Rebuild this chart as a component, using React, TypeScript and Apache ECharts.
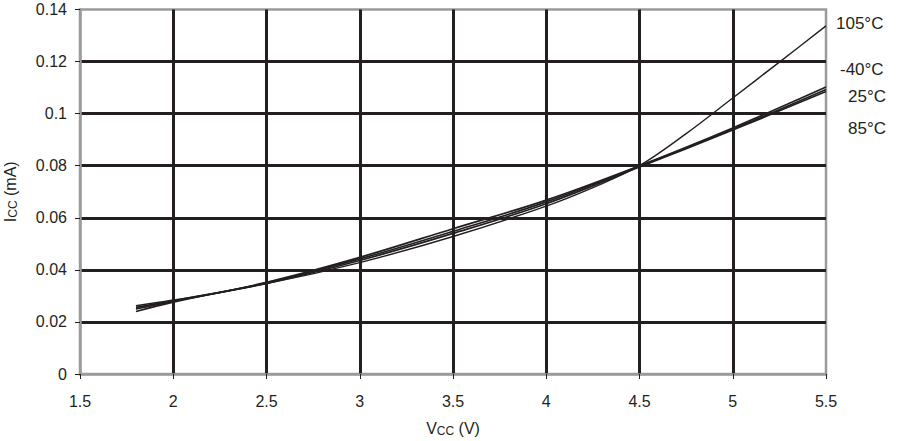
import React, { useEffect, useRef } from "react";
import * as echarts from "echarts";

const vcc = [1.8, 2, 2.5, 3, 3.5, 4, 4.5, 5, 5.5];
const iccM40 = [0.0240, 0.0276, 0.0352, 0.0448, 0.0558, 0.0668, 0.0800, 0.0945, 0.1102];
const icc25 = [0.0250, 0.0279, 0.0350, 0.0442, 0.0548, 0.0661, 0.0798, 0.0940, 0.1093];
const icc85 = [0.0256, 0.0281, 0.0348, 0.0436, 0.0540, 0.0654, 0.0795, 0.0937, 0.1085];
const vcc105 = [1.8, 2, 2.5, 3, 3.5, 4, 4.25, 4.5, 4.75, 5, 5.25, 5.5];
const icc105 = [0.0262, 0.0284, 0.0347, 0.0428, 0.0528, 0.0645, 0.0716, 0.0800, 0.0923, 0.1060, 0.1198, 0.1337];
const seriesNames = ["-40°C", "25°C", "85°C", "105°C"];
const xTicks = { min: 1.5, max: 5.5, interval: 0.5 };
const yTicks = { min: 0, max: 0.14, interval: 0.02 };

const INK = "#231f20";
const FRAME = "#9a9a9a";
const FONT = "Liberation Sans, Arial, sans-serif";

export default function App() {
  const ref = useRef<HTMLDivElement>(null);
  useEffect(() => {
    document.body.style.margin = "0";
    const chart = echarts.init(ref.current!, null, { renderer: "svg" });
    const all: [number[], number[]][] = [
      [vcc, iccM40],
      [vcc, icc25],
      [vcc, icc85],
      [vcc105, icc105],
    ];
    chart.setOption({
      animation: false,
      textStyle: { fontFamily: FONT, color: INK },
      grid: {
        left: 80,
        right: 72,
        top: 9.5,
        bottom: 67,
        outerBoundsMode: "none",
        containLabel: false,
        show: true,
        borderColor: FRAME,
        borderWidth: 2.5,
        backgroundColor: "transparent",
      },
      xAxis: {
        type: "value",
        min: xTicks.min,
        max: xTicks.max,
        interval: xTicks.interval,
        axisLine: { show: true, lineStyle: { color: FRAME, width: 2.5 } },
        axisTick: { show: true, length: 5, lineStyle: { color: INK, width: 1 } },
        axisLabel: { color: INK, fontSize: 16, margin: 19, fontFamily: FONT },
        splitLine: {
          show: true,
          showMinLine: false,
          showMaxLine: false,
          lineStyle: { color: INK, width: 3 },
        },
        name: "{a|V}{s|CC}{a| (V)}",
        nameLocation: "middle",
        nameGap: 46,
        nameTextStyle: {
          rich: {
            a: { fontSize: 16, color: INK, fontFamily: FONT },
            s: { fontSize: 12, color: INK, fontFamily: FONT, padding: [5, 0, 0, 0] },
          },
        },
      },
      yAxis: {
        type: "value",
        min: yTicks.min,
        max: yTicks.max,
        interval: yTicks.interval,
        axisLine: { show: true, lineStyle: { color: FRAME, width: 2.5 } },
        axisTick: { show: true, length: 5, lineStyle: { color: INK, width: 1 } },
        axisLabel: {
          color: INK,
          fontSize: 16,
          margin: 13,
          fontFamily: FONT,
          formatter: (v: number) => (v === 0 ? "0" : String(parseFloat(v.toFixed(2)))),
        },
        splitLine: {
          show: true,
          showMinLine: false,
          showMaxLine: false,
          lineStyle: { color: INK, width: 3 },
        },
        name: "{a|I}{s|CC}{a| (mA)}",
        nameLocation: "middle",
        nameGap: 61,
        nameRotate: 90,
        nameTextStyle: {
          rich: {
            a: { fontSize: 16, color: INK, fontFamily: FONT },
            s: { fontSize: 12, color: INK, fontFamily: FONT, padding: [5, 0, 0, 0] },
          },
        },
      },
      series: all.map(([xs, d], i) => ({
        name: seriesNames[i],
        type: "line",
        smooth: 0.35,
        showSymbol: false,
        symbol: "none",
        data: xs.map((x, j) => [x, d[j]]),
        lineStyle: { color: INK, width: i === 3 ? 1.4 : 1.7 },
        z: 5,
      })),
      graphic: [
        { type: "text", left: 836, top: 15, style: { text: "105°C", fontSize: 17, fill: INK, fontFamily: FONT } },
        { type: "text", left: 840, top: 61, style: { text: "-40°C", fontSize: 17, fill: INK, fontFamily: FONT } },
        { type: "text", left: 848, top: 88, style: { text: "25°C", fontSize: 17, fill: INK, fontFamily: FONT } },
        { type: "text", left: 848, top: 120, style: { text: "85°C", fontSize: 17, fill: INK, fontFamily: FONT } },
      ],
    });
    return () => chart.dispose();
  }, []);
  return <div ref={ref} style={{ width: 898, height: 441 }} />;
}
